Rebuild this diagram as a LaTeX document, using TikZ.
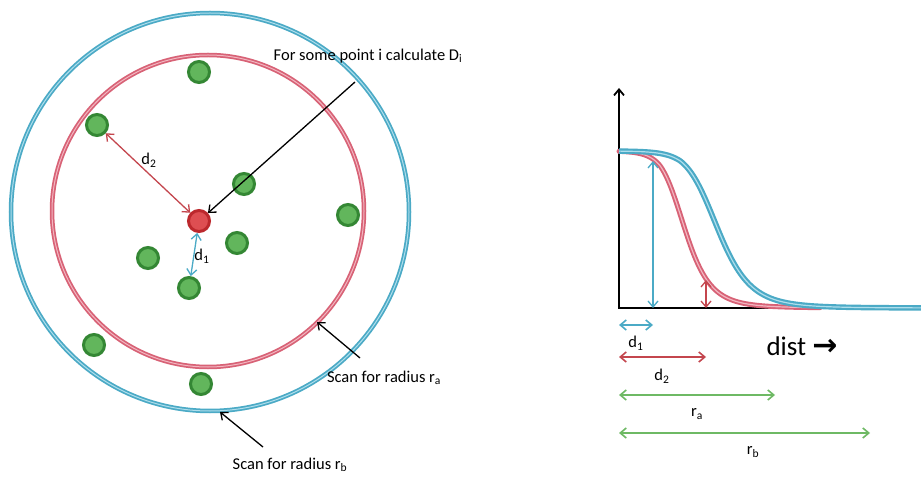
\documentclass[tikz,border=0pt]{standalone}
\usepackage{fontspec}
\setmainfont{Carlito}
\newfontfamily\arrowfont{DejaVu Sans}
\usetikzlibrary{arrows.meta}
\definecolor{cblue}{RGB}{75,170,198}
\definecolor{cblueL}{RGB}{175,222,236}
\definecolor{cred}{RGB}{216,98,118}
\definecolor{credL}{RGB}{242,182,192}
\definecolor{cgreen}{RGB}{110,185,100}
\definecolor{gdark}{RGB}{52,135,52}
\definecolor{glight}{RGB}{98,182,92}
\definecolor{rdark}{RGB}{188,40,45}
\definecolor{rlight}{RGB}{222,78,82}
\definecolor{arrred}{RGB}{196,70,78}
\tikzset{
  dot/.style={circle, minimum size=21pt, inner sep=0pt, fill=glight, draw=gdark, line width=3pt},
  pdot/.style={dot, fill=rlight, draw=rdark},
  lbl/.style={font=\fontsize{16.5}{19}\selectfont, inner sep=1pt},
  tip/.style={-{Straight Barb[length=6pt,width=10pt]}},
  both/.style={{Straight Barb[length=6pt,width=10pt]}-{Straight Barb[length=6pt,width=10pt]}},
  ringout/.style={line width=4.5pt},
  ringin/.style={line width=1pt},
}
\begin{document}
\begin{tikzpicture}[x=1pt,y=-1pt,
  declare function={
    redk(\x)=max(11,11+(\x-660)*0.07);
    bluek(\x)=max(14,14+(\x-680)*0.06);
    redf(\x)=308-157/(1+exp((\x-685)/redk(\x)));
    bluef(\x)=308-157/(1+exp((\x-718)/bluek(\x)));
  }]
\useasboundingbox[fill=white] (0,0) rectangle (921,478);
% rings
\draw[cblue, ringout] (210,212) circle[radius=199];
\draw[cblueL, ringin] (210,212) circle[radius=199];
\draw[cred, ringout] (208,211) circle[radius=156];
\draw[credL, ringin] (208,211) circle[radius=156];
% dots
\node[pdot] (p) at (199,221) {};
\node[dot] (g1) at (199,72) {};
\node[dot] (g2) at (97,125) {};
\node[dot] (g3) at (244,184) {};
\node[dot] (g4) at (348,215) {};
\node[dot] (g5) at (237,243) {};
\node[dot] (g6) at (148,258) {};
\node[dot] (g7) at (189,288) {};
\node[dot] (g8) at (94,345) {};
\node[dot] (g9) at (201,384) {};
% distance arrows
\draw[arrred, line width=1.3pt, both] (g2) -- (p);
\node[lbl] (ld2) at (149,160) {d\textsubscript{2}};
\draw[cblue, line width=1.3pt, both] (p) -- (g7);
\node[lbl] (ld1) at (202,256) {d\textsubscript{1}};
% annotation
\node[lbl] (ti) at (368,56) {For some point i calculate D\textsubscript{i}};
\coordinate (tia) at (355,82);
\draw[black, line width=1.3pt, tip] (tia) -- (p);
\node[lbl] (sa) at (384,378) {Scan for radius r\textsubscript{a}};
\coordinate (saa) at (360,358);
\coordinate (sab) at (317,322);
\draw[black, line width=1.3pt, tip] (saa) -- (sab);
\node[lbl] (sb) at (290,465) {Scan for radius r\textsubscript{b}};
\coordinate (sba) at (263,447);
\coordinate (sbb) at (220,412);
\draw[black, line width=1.3pt, tip] (sba) -- (sbb);
% chart axes
\coordinate (o) at (619,308);
\coordinate (ytop) at (619,88);
\coordinate (xend) at (921,308);
\draw[black, line width=1.8pt] (o) -- (xend);
\draw[black, line width=1.8pt, tip] (619,309) -- (ytop);
% curves
\draw[cred, line width=5pt, line cap=round] plot[domain=619:820, samples=140, smooth] (\x, {redf(\x)});
\draw[credL, line width=1.2pt] plot[domain=619:820, samples=140, smooth] (\x, {redf(\x)});
\draw[cblue, line width=5.5pt] plot[domain=619:921, samples=160, smooth] (\x, {bluef(\x)});
\draw[cblueL, line width=1.2pt] plot[domain=619:921, samples=160, smooth] (\x, {bluef(\x)});
% chart arrows
\coordinate (bt) at (653,161);
\coordinate (bb) at (653,308);
\draw[cblue, line width=1.3pt, both] (bt) -- (bb);
\coordinate (rt) at (706,280);
\coordinate (rb) at (706,308);
\draw[arrred, line width=1.3pt, both] (rt) -- (rb);
% bottom scale
\coordinate (d1a) at (619,325); \coordinate (d1b) at (653,325);
\draw[cblue, line width=1.6pt, both] (d1a) -- (d1b);
\node[lbl] (l1) at (636,343) {d\textsubscript{1}};
\coordinate (d2a) at (619,357); \coordinate (d2b) at (706,357);
\draw[arrred, line width=1.6pt, both] (d2a) -- (d2b);
\node[lbl] (l2) at (662,376) {d\textsubscript{2}};
\coordinate (raa) at (619,395); \coordinate (rab) at (775,395);
\draw[cgreen, line width=1.6pt, both] (raa) -- (rab);
\node[lbl] (l3) at (697,414) {r\textsubscript{a}};
\coordinate (rba) at (619,433); \coordinate (rbb) at (870,433);
\draw[cgreen, line width=1.6pt, both] (rba) -- (rbb);
\node[lbl] (l4) at (753,452) {r\textsubscript{b}};
\node[font=\fontsize{27}{30}\selectfont, inner sep=0pt] (dist) at (802,346) {dist {\arrowfont\bfseries\fontsize{30}{30}\selectfont →}};
\end{tikzpicture}
\end{document}
